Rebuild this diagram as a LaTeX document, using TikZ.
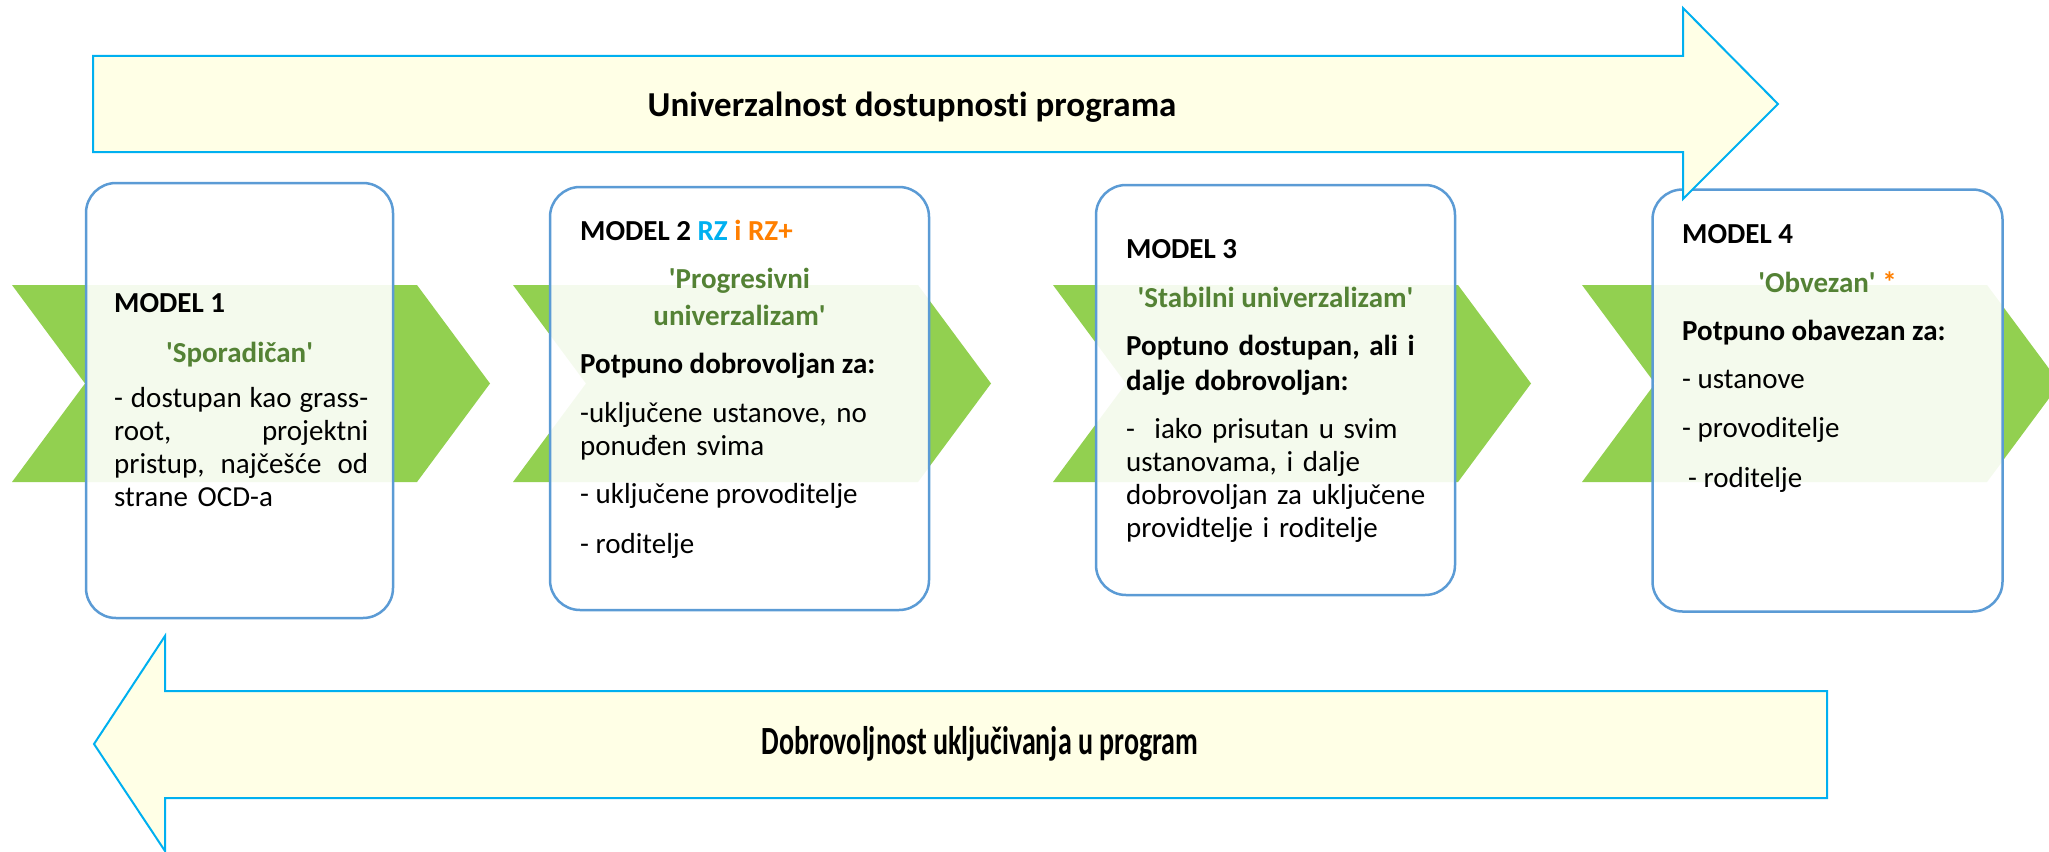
\documentclass[tikz,border=0pt]{standalone}
\usepackage{fontspec}
\setmainfont{Carlito}[Ligatures={TeX,NoCommon}]
\usepackage{tikz}
\usetikzlibrary{positioning}

\definecolor{chevgreen}{HTML}{92D050}
\definecolor{boxblue}{HTML}{5B9BD5}
\definecolor{arrowcyan}{HTML}{00B0F0}
\definecolor{arrowfill}{HTML}{FFFFE6}
\definecolor{taggreen}{HTML}{548235}
\definecolor{rzblue}{HTML}{00B0F0}
\definecolor{rzorange}{HTML}{FF7F00}
\newcommand\qmark{\textquotesingle}

\begin{document}
\begin{tikzpicture}[x=1pt,y=-1pt,inner sep=0pt]
  \tikzstyle{modelbox}=[draw=boxblue,line width=2.5pt,rounded corners=30pt,fill=white,fill opacity=0.9]
  \tikzstyle{bigarrow}=[draw=arrowcyan,line width=2pt,fill=arrowfill]
  \tikzstyle{modelname}=[anchor=base west,font=\bfseries\fontsize{29}{33}\selectfont]
  \tikzstyle{tag}=[anchor=base,align=center,text=taggreen,font=\bfseries\fontsize{29}{37}\selectfont]
  \tikzstyle{lead}=[anchor=base west,align=left,font=\bfseries\fontsize{29}{35}\selectfont]
  \tikzstyle{body}=[anchor=base west,align=left,font=\fontsize{29}{33}\selectfont]
  \useasboundingbox (0,0) rectangle (2049,851);

  % green chevrons behind the models
  \foreach \l in {12,513,1053,1582}
    \fill[chevgreen] (\l,285) -- ++(405,0) -- ++(73,98.5) -- ++(-73,98.5)
      -- ++(-405,0) -- ++(73,-98.5) -- cycle;

  \node[modelbox,minimum width=307pt,minimum height=435pt] (mod_1) at (239.5,400.5) {};
  \node[modelbox,minimum width=379pt,minimum height=423pt] (mod_2) at (739.5,398.5) {};
  \node[modelbox,minimum width=359pt,minimum height=410pt] (mod_3) at (1275.5,390) {};
  \node[modelbox,minimum width=350pt,minimum height=422pt] (mod_4) at (1827.5,400.5) {};

  % big arrows
  \draw[bigarrow] (93,56) -- (1683,56) -- (1683,8) -- (1778,104) -- (1683,199)
    -- (1683,152) -- (93,152) -- cycle;
  \draw[bigarrow] (1827,691) -- (165,691) -- (165,636) -- (94,744) -- (165,851)
    -- (165,798) -- (1827,798) -- cycle;
  \node[font=\bfseries\fontsize{35}{42}\selectfont] (uni) at (912,107)
    {Univerzalnost dostupnosti programa};
  \node[font=\bfseries\fontsize{40}{48}\selectfont] (dob) at (980,744)
    {\scalebox{0.7}[1]{Dobrovoljnost uključivanja u program}};

  % model 1
  \node[modelname] (name_1) at (114,312) {MODEL 1};
  \node[tag] (tag_1) at (239.5,362) {\qmark Sporadičan\qmark};
  \node[body,text width=254pt] (txt_1) at (114,407)
    {\makebox[254pt][l]{-\hfill dostupan\hfill kao\hfill grass-}\\
     \makebox[254pt][l]{root,\hfill projektni}\\
     \makebox[254pt][l]{pristup,\hfill najčešće\hfill od}\\
     strane OCD-a};

  % model 2
  \node[modelname] (name_2) at (580,240)
    {MODEL 2 \textcolor{rzblue}{RZ} \textcolor{rzorange}{i RZ+}};
  \node[tag,text width=360pt] (tag_2) at (739.5,288)
    {\qmark Progresivni\\univerzalizam\qmark};
  \node[lead] (lead_2) at (580,373) {Potpuno dobrovoljan za:};
  \node[body,text width=320pt] (txt_2) at (580,422)
    {-uključene ustanove, no\\ponuđen svima};
  \node[body] (prov_2) at (580,503) {- uključene provoditelje};
  \node[body] (rod_2) at (580,553) {- roditelje};

  % model 3
  \node[modelname] (name_3) at (1126,258) {MODEL 3};
  \node[tag] (tag_3) at (1275.5,307) {\qmark Stabilni univerzalizam\qmark};
  \node[lead,text width=320pt] (lead_3) at (1126,355)
    {Poptuno dostupan, ali i\\dalje dobrovoljan:};
  \node[body,text width=320pt] (txt_3) at (1126,438)
    {-\ \ iako prisutan u svim\\ustanovama, i dalje\\dobrovoljan za uključene\\providtelje i roditelje};

  % model 4
  \node[modelname] (name_4) at (1682,243) {MODEL 4};
  \node[tag] (tag_4) at (1827.5,292) {\qmark Obvezan\qmark\ \textcolor{rzorange}{*}};
  \node[lead] (lead_4) at (1682,340) {Potpuno obavezan za:};
  \node[body] (ust_4) at (1682,388) {- ustanove};
  \node[body] (prov_4) at (1682,437) {- provoditelje};
  \node[body] (rod_4) at (1688,487) {- roditelje};
\end{tikzpicture}
\end{document}
